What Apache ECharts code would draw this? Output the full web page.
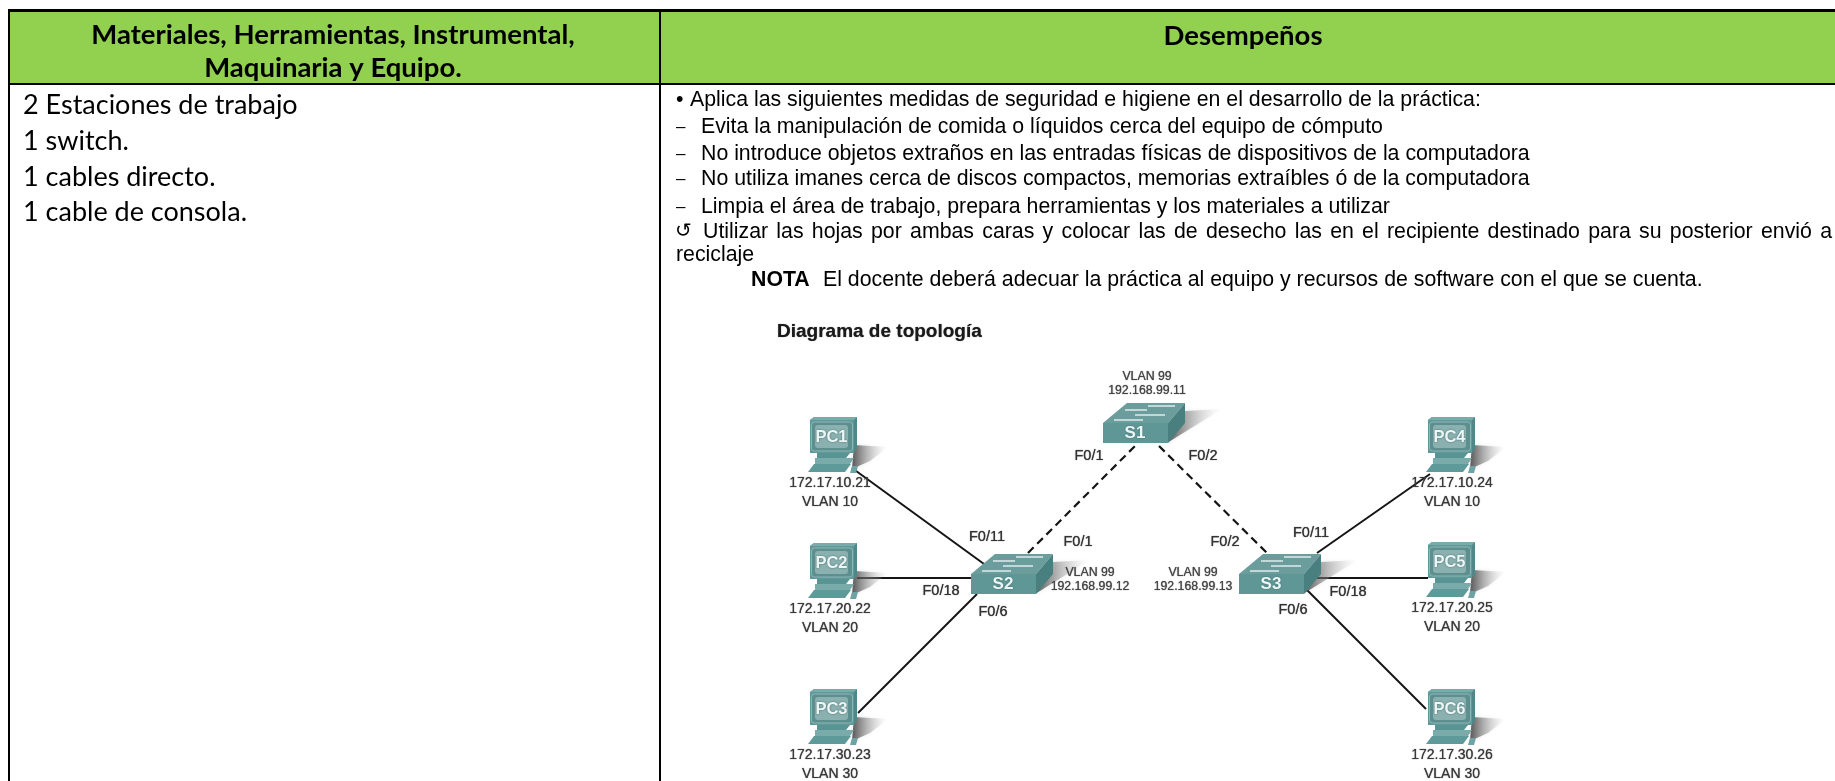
<!DOCTYPE html>
<html><head><meta charset="utf-8">
<style>html,body{margin:0;padding:0;background:#fff}#c{width:1835px;height:781px}</style>
<script src="https://cdn.jsdelivr.net/npm/echarts@6/dist/echarts.min.js"></script>
</head><body><div id="c"></div>
<script>
// ---- content ----
const headerLeft = ['Materiales, Herramientas, Instrumental,', 'Maquinaria y Equipo.'];
const headerRight = 'Desempeños';
const materials = ['2 Estaciones de trabajo', '1 switch.', '1 cables directo.', '1 cable de consola.'];
const bullet = 'Aplica las siguientes medidas de seguridad e higiene en el desarrollo de la práctica:';
const measures = [
  'Evita la manipulación de comida o líquidos cerca del equipo de cómputo',
  'No introduce objetos extraños en las entradas físicas de dispositivos de la computadora',
  'No utiliza imanes cerca de discos compactos, memorias extraíbles ó de la computadora',
  'Limpia el área de trabajo, prepara herramientas y los materiales a utilizar'
];
const recycle1 = 'Utilizar las hojas por ambas caras y colocar las de desecho las en el recipiente destinado para su posterior envió a';
const recycle2 = 'reciclaje';
const noteHead = 'NOTA';
const noteBody = 'El docente deberá adecuar la práctica al equipo y recursos de software con el que se cuenta.';
const diagramTitle = 'Diagrama de topología';

const pcNames = ['PC1', 'PC2', 'PC3', 'PC4', 'PC5', 'PC6'];
const pcIps = ['172.17.10.21', '172.17.20.22', '172.17.30.23', '172.17.10.24', '172.17.20.25', '172.17.30.26'];
const pcVlans = ['VLAN 10', 'VLAN 20', 'VLAN 30', 'VLAN 10', 'VLAN 20', 'VLAN 30'];
const switchNames = ['S1', 'S2', 'S3'];
const switchVlans = ['VLAN 99', 'VLAN 99', 'VLAN 99'];
const switchIps = ['192.168.99.11', '192.168.99.12', '192.168.99.13'];

// ---- layout (page pixels, mapped through hidden axes) ----
const pcAt = [[808,417],[808,543],[808,689],[1426,417],[1426,542],[1426,689]];
const pcLabelX = [830,830,830,1452,1452,1452];
const switchAt = [[1103,403],[971,554],[1239,554]];
const switchLabelAt = [[1147,377,391],[1090,573,587],[1193,573,587]];
const portLabels = [
  ['F0/1',1089,456],['F0/2',1203,456],['F0/11',987,537],['F0/1',1078,542],['F0/18',941,591],['F0/6',993,612],
  ['F0/2',1225,542],['F0/11',1311,533],['F0/18',1348,592],['F0/6',1293,610]
];
const solidLinks = [
  [[852,468],[984,564]], [[857,578],[971,578]], [[858,713],[977,594]],
  [[1317,553],[1430,474]], [[1317,578],[1428,578]], [[1307,590],[1426,709]]
];
const dashedLinks = [ [[1028,553],[1137,444]], [[1159,446],[1268,554]] ];

const FA = '"Liberation Sans", Arial, sans-serif';
const FL = 'Lato, "Open Sans", sans-serif';
const T = {L:9, R:1835, TOP:10.5, HB:84, DIV:660, B:781};

const chart = echarts.init(document.getElementById('c'), null, {renderer:'canvas'});
const mctx = document.createElement('canvas').getContext('2d');

// ---- table as graphic ----
const g = [];
g.push({type:'rect', shape:{x:T.L,y:T.TOP,width:T.R-T.L,height:T.HB-T.TOP}, style:{fill:'#92D050'}});
const bl = (x1,y1,x2,y2,w)=>g.push({type:'line',z:5,shape:{x1,y1,x2,y2},style:{stroke:'#000',lineWidth:w}});
bl(T.L-1,T.TOP,T.R,T.TOP,3); bl(T.L-1,T.HB,T.R,T.HB,2);
bl(T.L,T.TOP,T.L,T.B,2); bl(T.DIV,T.TOP,T.DIV,T.B,2);
const txt=(s,x,y,font,o={})=>g.push({type:'text',z:6,x,y,style:Object.assign({text:s,font,fill:'#000',verticalAlign:'middle',align:'left'},o)});
const HF='bold 27.5px '+FL;
txt(headerLeft[0],333,35,HF,{align:'center'});
txt(headerLeft[1],333,68,HF,{align:'center'});
txt(headerRight,1243,36,HF,{align:'center'});
const MF='27px '+FL;
const matY=[105,141,177,212];
materials.forEach((m,i)=>txt(m,23,matY[i],MF));
const AF='21.3px '+FA;
txt('•',676,100,AF); txt(bullet,690,100,AF);
const my=[127,154,179,207];
measures.forEach((m,i)=>{txt('–',676,my[i],'17px '+FA);txt(m,701,my[i],AF);});
txt('↺',675,232,'20px "DejaVu Sans"');
(function(){
  const words=recycle1.split(' ');mctx.font=AF;
  const x0=703,x1=1832;
  const tot=words.reduce((a,w)=>a+mctx.measureText(w).width,0);
  const gap=(x1-x0-tot)/(words.length-1);let x=x0;
  words.forEach(w=>{txt(w,x,232,AF);x+=mctx.measureText(w).width+gap;});
})();
txt(recycle2,676,255,AF);
txt(noteHead,751,280,'bold 21.3px '+FA);
txt(noteBody,823,280,AF);
txt(diagramTitle,777,332,'bold 19px '+FA,{fill:'#1a1a1a',textShadowColor:'#555',textShadowBlur:1});

// ---- icons ----
const P=(points,fill)=>({type:'polygon',shape:{points},style:{fill}});
const shadow=(points,x1,y1,x2,y2)=>({type:'polygon',shape:{points},style:{shadowBlur:4,shadowColor:'rgba(120,120,120,.25)',fill:new echarts.graphic.LinearGradient(x1,y1,x2,y2,[{offset:0,color:'rgba(60,60,60,.85)'},{offset:1,color:'rgba(215,215,215,0)'}])}});
const lab=(s,x,y,size,col,extra)=>({type:'text',x,y,style:Object.assign({text:s,font:size+'px '+FA,fill:col,align:'center',verticalAlign:'middle',textShadowColor:col,textShadowBlur:1},extra||{})});

function pcIcon(name){
  return [
    shadow([[46,28],[80,30],[62,44],[44,52]],0,0,1,0),
    P([[2,3],[6,0],[49,0],[49,32],[46,36],[2,36]],'#4f8888'),
    P([[2,3],[6,0],[49,0],[46,3]],'#79abab'),
    P([[2,3],[46,3],[46,36],[2,36]],'#5f9a9a'),
    {type:'rect',shape:{x:3.5,y:5,width:41,height:29,r:3},style:{fill:'#5d8f8f',stroke:'#8db5b5',lineWidth:1}},
    {type:'rect',shape:{x:7,y:8,width:33,height:23,r:3},style:{fill:'#8ab0b0'}},
    {type:'text',x:23.5,y:20,style:{text:name,font:'bold 16.5px '+FA,fill:'#eef5f5',align:'center',verticalAlign:'middle',textShadowColor:'#3c6a6a',textShadowBlur:2}},
    P([[9,36],[42,36],[38,41],[9,41]],'#5a9393'),
    P([[7,41],[46,41],[42,47],[7,47]],'#7aabab'),
    P([[6,47],[43,47],[37,55],[0,55]],'#5f9a9a'),
    P([[44,49],[50,49],[48,56],[42,56]],'#6fa3a3')
  ];
}
function arrow(x1,x2,y){
  return {type:'line',shape:{x1,y1:y,x2,y2:y},style:{stroke:'#e8f2f2',lineWidth:1.4}};
}
function switchIcon(name){
  return [
    shadow([[64,40],[82,8],[119,6]],0,0,1,0),
    P([[0,20],[24,0],[82,0],[65,20]],'#6b9d9d'),
    P([[0,20],[65,20],[65,40],[0,40]],'#5f9797'),
    P([[65,20],[82,0],[82,20],[65,40]],'#4a7f7f'),
    arrow(45,72,3), arrow(22,44,7), arrow(32,62,12), arrow(11,40,17),
    {type:'text',x:32,y:30,style:{text:name,font:'bold 17px '+FA,fill:'#eef5f5',align:'center',verticalAlign:'middle',textShadowColor:'#3c6a6a',textShadowBlur:2}}
  ];
}

const option={
  animation:false,
  backgroundColor:'#fff',
  grid:{left:0,right:0,top:0,bottom:0},
  xAxis:{type:'value',min:0,max:1835,show:false},
  yAxis:{type:'value',min:0,max:781,inverse:true,show:false},
  graphic:{elements:g},
  series:[
    {type:'lines',coordinateSystem:'cartesian2d',z:2,silent:true,
     lineStyle:{color:'#151515',width:2,opacity:1},
     data:solidLinks.map(c=>({coords:c}))},
    {type:'lines',coordinateSystem:'cartesian2d',z:2,silent:true,
     lineStyle:{color:'#151515',width:2.2,type:[8,5],opacity:1},
     data:dashedLinks.map(c=>({coords:c}))},
    {type:'custom',coordinateSystem:'cartesian2d',z:3,silent:true,
     data:pcNames.map((n,i)=>[pcAt[i][0],pcAt[i][1],i]),
     renderItem(p,api){
       const i=api.value(2),o=api.coord([api.value(0),api.value(1)]);
       return {type:'group',children:[
         {type:'group',x:o[0],y:o[1],children:pcIcon(pcNames[i])},
         ...[[pcIps[i],66],[pcVlans[i],85]].map(([s,dy])=>{const q=api.coord([pcLabelX[i],pcAt[i][1]+dy]);return lab(s,q[0],q[1],14,'#3a3a3a');})
       ]};
     }},
    {type:'custom',coordinateSystem:'cartesian2d',z:3,silent:true,
     data:switchNames.map((n,i)=>[switchAt[i][0],switchAt[i][1],i]),
     renderItem(p,api){
       const i=api.value(2),o=api.coord([api.value(0),api.value(1)]);
       const l=switchLabelAt[i];
       return {type:'group',children:[
         {type:'group',x:o[0],y:o[1],children:switchIcon(switchNames[i])},
         lab(switchVlans[i],api.coord([l[0],l[1]])[0],api.coord([l[0],l[1]])[1],12.3,'#444'),
         lab(switchIps[i],api.coord([l[0],l[2]])[0],api.coord([l[0],l[2]])[1],12.3,'#444')
       ]};
     }},
    {type:'custom',coordinateSystem:'cartesian2d',z:4,silent:true,
     data:portLabels.map((l,i)=>[l[1],l[2],i]),
     renderItem(p,api){
       const q=api.coord([api.value(0),api.value(1)]);
       return lab(portLabels[api.value(2)][0],q[0],q[1],14.5,'#333');
     }}
  ]
};
chart.setOption(option);
</script></body></html>
